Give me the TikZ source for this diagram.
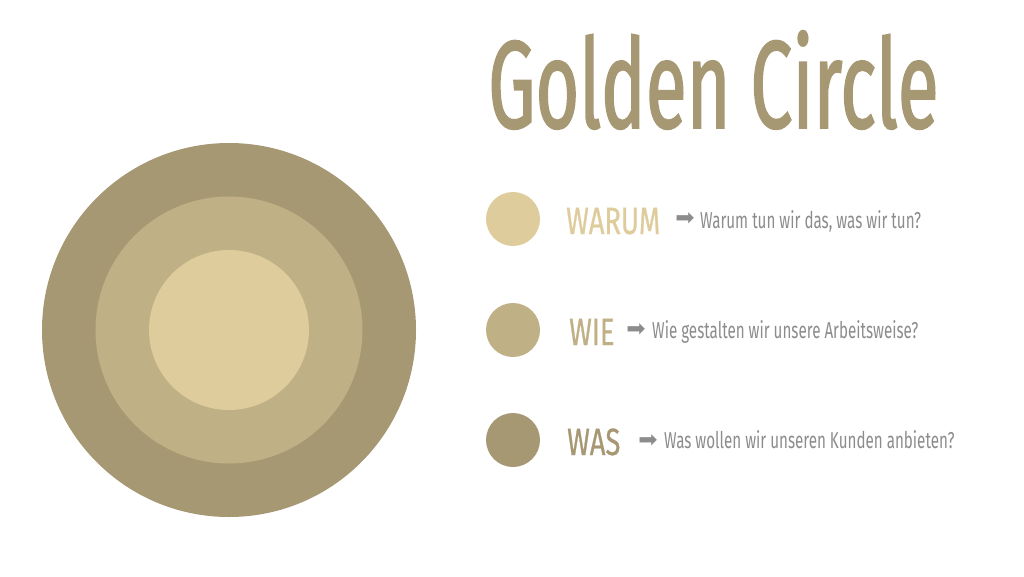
\documentclass[tikz,border=0pt]{standalone}
\usepackage{fontspec}
\newfontfamily\goldfont{Fira Sans}[FakeStretch=0.6,FakeBold=1.2]
\newfontfamily\headfont{Fira Sans}[FakeStretch=0.72,FakeBold=0.6]
\newfontfamily\askfont{Fira Sans}[FakeStretch=0.66]
\newfontfamily\arrowfont{DejaVu Sans}
\definecolor{gold1}{HTML}{DFCC9C}
\definecolor{gold2}{HTML}{C0B085}
\definecolor{gold3}{HTML}{A79874}
\definecolor{txtgray}{HTML}{8C8C8C}

\begin{document}
\begin{tikzpicture}[x=1pt,y=-1pt]
    \useasboundingbox (0,0) rectangle (1024,576);

        % big circle
        \begin{scope}[every node/.style={circle,inner sep=0pt}]
            \node[fill=gold3,minimum size=374pt] (outer) at (229,330) {};
            \node[fill=gold2,minimum size=267pt] (middle) at (229,330) {};
            \node[fill=gold1,minimum size=160pt] (inner) at (229,330) {};

            \node[fill=gold1,minimum size=54pt] (d1) at (513,219) {};
            \node[fill=gold2,minimum size=54pt] (d2) at (513,330) {};
            \node[fill=gold3,minimum size=54pt] (d3) at (513,440) {};
        \end{scope}

        \node[anchor=base west,inner sep=0pt,text=gold3,font=\goldfont\fontsize{125}{125}\selectfont] (title) at (488,128) {Golden Circle};

        % headings
        \begin{scope}[every node/.style={anchor=base west,inner sep=0pt,font=\headfont\fontsize{38}{38}\selectfont}]
            \node[text=gold1] (w1) at (566,234) {WARUM};
            \node[text=gold2] (w2) at (569,345) {WIE};
            \node[text=gold3] (w3) at (567,455) {WAS};
        \end{scope}

        % arrows
        \begin{scope}[every node/.style={inner sep=0pt,text=txtgray,font=\arrowfont\fontsize{23}{23}\selectfont}]
            \node (a1) at (685,219) {➡};
            \node (a2) at (636,330) {➡};
            \node (a3) at (648,441) {➡};
        \end{scope}

        % questions
        \begin{scope}[every node/.style={anchor=base west,inner sep=0pt,text=txtgray,font=\askfont\fontsize{23}{23}\selectfont}]
            \node (q1) at (700,228) {Warum tun wir das, was wir tun?};
            \node (q2) at (652,338) {Wie gestalten wir unsere Arbeitsweise?};
            \node (q3) at (664,448) {Was wollen wir unseren Kunden anbieten?};
        \end{scope}

\end{tikzpicture}
\end{document}
